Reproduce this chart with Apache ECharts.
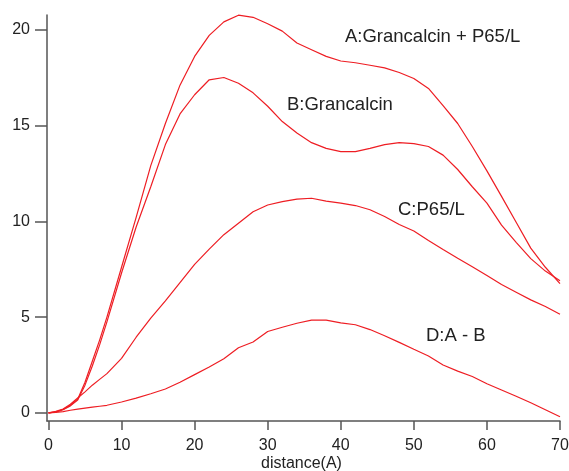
<!DOCTYPE html>
<html>
<head>
<meta charset="utf-8">
<script src="https://cdn.jsdelivr.net/npm/echarts@6/dist/echarts.min.js"></script>
<style>
html,body{margin:0;padding:0;background:#fff;}
#chart{width:569px;height:471px;}
</style>
</head>
<body>
<div id="chart"></div>
<script>
var distance = [0,1,2,3,4,5,6,7,8,10,12,14,16,18,20,22,24,26,28,30,32,34,36,38,40,42,44,46,48,50,52,54,56,58,60,62,64,66,68,70];
var seriesA = [0,0.05,0.18,0.4,0.72,1.6,2.7,3.8,5.0,7.6,10.2,12.9,15.1,17.1,18.6,19.7,20.4,20.75,20.64,20.3,19.92,19.3,18.95,18.6,18.36,18.27,18.14,18.0,17.76,17.45,16.93,16.03,15.1,13.9,12.63,11.3,9.95,8.6,7.6,6.75];
var seriesB = [0,0.05,0.17,0.37,0.68,1.45,2.45,3.55,4.75,7.3,9.7,11.8,14.0,15.6,16.6,17.38,17.5,17.2,16.7,16.0,15.2,14.6,14.1,13.8,13.63,13.63,13.8,14.0,14.1,14.05,13.9,13.45,12.7,11.8,10.95,9.8,8.9,8.05,7.4,6.9];
var seriesC = [0,0.08,0.2,0.45,0.78,1.1,1.45,1.75,2.05,2.85,3.95,4.95,5.85,6.8,7.75,8.55,9.3,9.9,10.5,10.85,11.02,11.15,11.2,11.05,10.95,10.82,10.6,10.25,9.83,9.49,9.0,8.53,8.07,7.63,7.17,6.7,6.3,5.9,5.55,5.15];
var seriesD = [0,0.03,0.07,0.14,0.2,0.25,0.3,0.35,0.4,0.57,0.77,1.0,1.25,1.6,2.0,2.4,2.83,3.4,3.7,4.25,4.47,4.68,4.84,4.84,4.7,4.6,4.35,4.03,3.68,3.32,2.97,2.5,2.18,1.9,1.52,1.2,0.87,0.53,0.17,-0.2];
var xTicks = [0,10,20,30,40,50,60,70];
var yTicks = [0,5,10,15,20];
var seriesNames = ['A:Grancalcin + P65/L','B:Grancalcin','C:P65/L','D:A - B'];

function pairs(ys){ return distance.map(function(x,i){ return [x, ys[i]]; }); }

var RED = '#ee1d23';
var FONT = '"Liberation Sans", Arial, sans-serif';
var chart = echarts.init(document.getElementById('chart'), null, {renderer:'canvas'});
var lineSeries = [seriesA, seriesB, seriesC, seriesD].map(function(ys, i){
  return {
    name: seriesNames[i], type:'line', data: pairs(ys), showSymbol:false, symbol:'none',
    lineStyle:{color:RED, width:1.2}, itemStyle:{color:RED}, clip:false, animation:false
  };
});
var labelPos = [[345,37],[287,104.5],[398,210],[426,336]];
var graphics = seriesNames.map(function(t,i){
  return {type:'text', left:labelPos[i][0], top:labelPos[i][1]-9.5,
    style:{text:t, font:'18.5px '+FONT, fill:'#222'}};
});
graphics.push({type:'text', left:261, top:456,
  style:{text:'distance(A)', font:'16px '+FONT, fill:'#222'}});

chart.setOption({
  animation:false,
  backgroundColor:'#fff',
  grid:{left:47, top:15, right:9, bottom:50, containLabel:false, outerBoundsMode:'none'},
  xAxis:{type:'value', min:-0.2, max:70,
    axisLine:{show:true, onZero:false, lineStyle:{color:'#555', width:1.5}},
    axisTick:{show:true, length:9, customValues:xTicks, lineStyle:{color:'#555', width:1.5}},
    axisLabel:{customValues:xTicks, margin:17, color:'#222', fontSize:16, fontFamily:FONT},
    splitLine:{show:false}},
  yAxis:{type:'value', min:-0.42, max:20.76,
    axisLine:{show:true, onZero:false, lineStyle:{color:'#555', width:1.5}},
    axisTick:{show:true, length:12, customValues:yTicks, lineStyle:{color:'#555', width:1.5}},
    axisLabel:{customValues:yTicks, margin:17, color:'#222', fontSize:16, fontFamily:FONT},
    splitLine:{show:false}},
  series: lineSeries,
  graphic: graphics
});
</script>
</body>
</html>
